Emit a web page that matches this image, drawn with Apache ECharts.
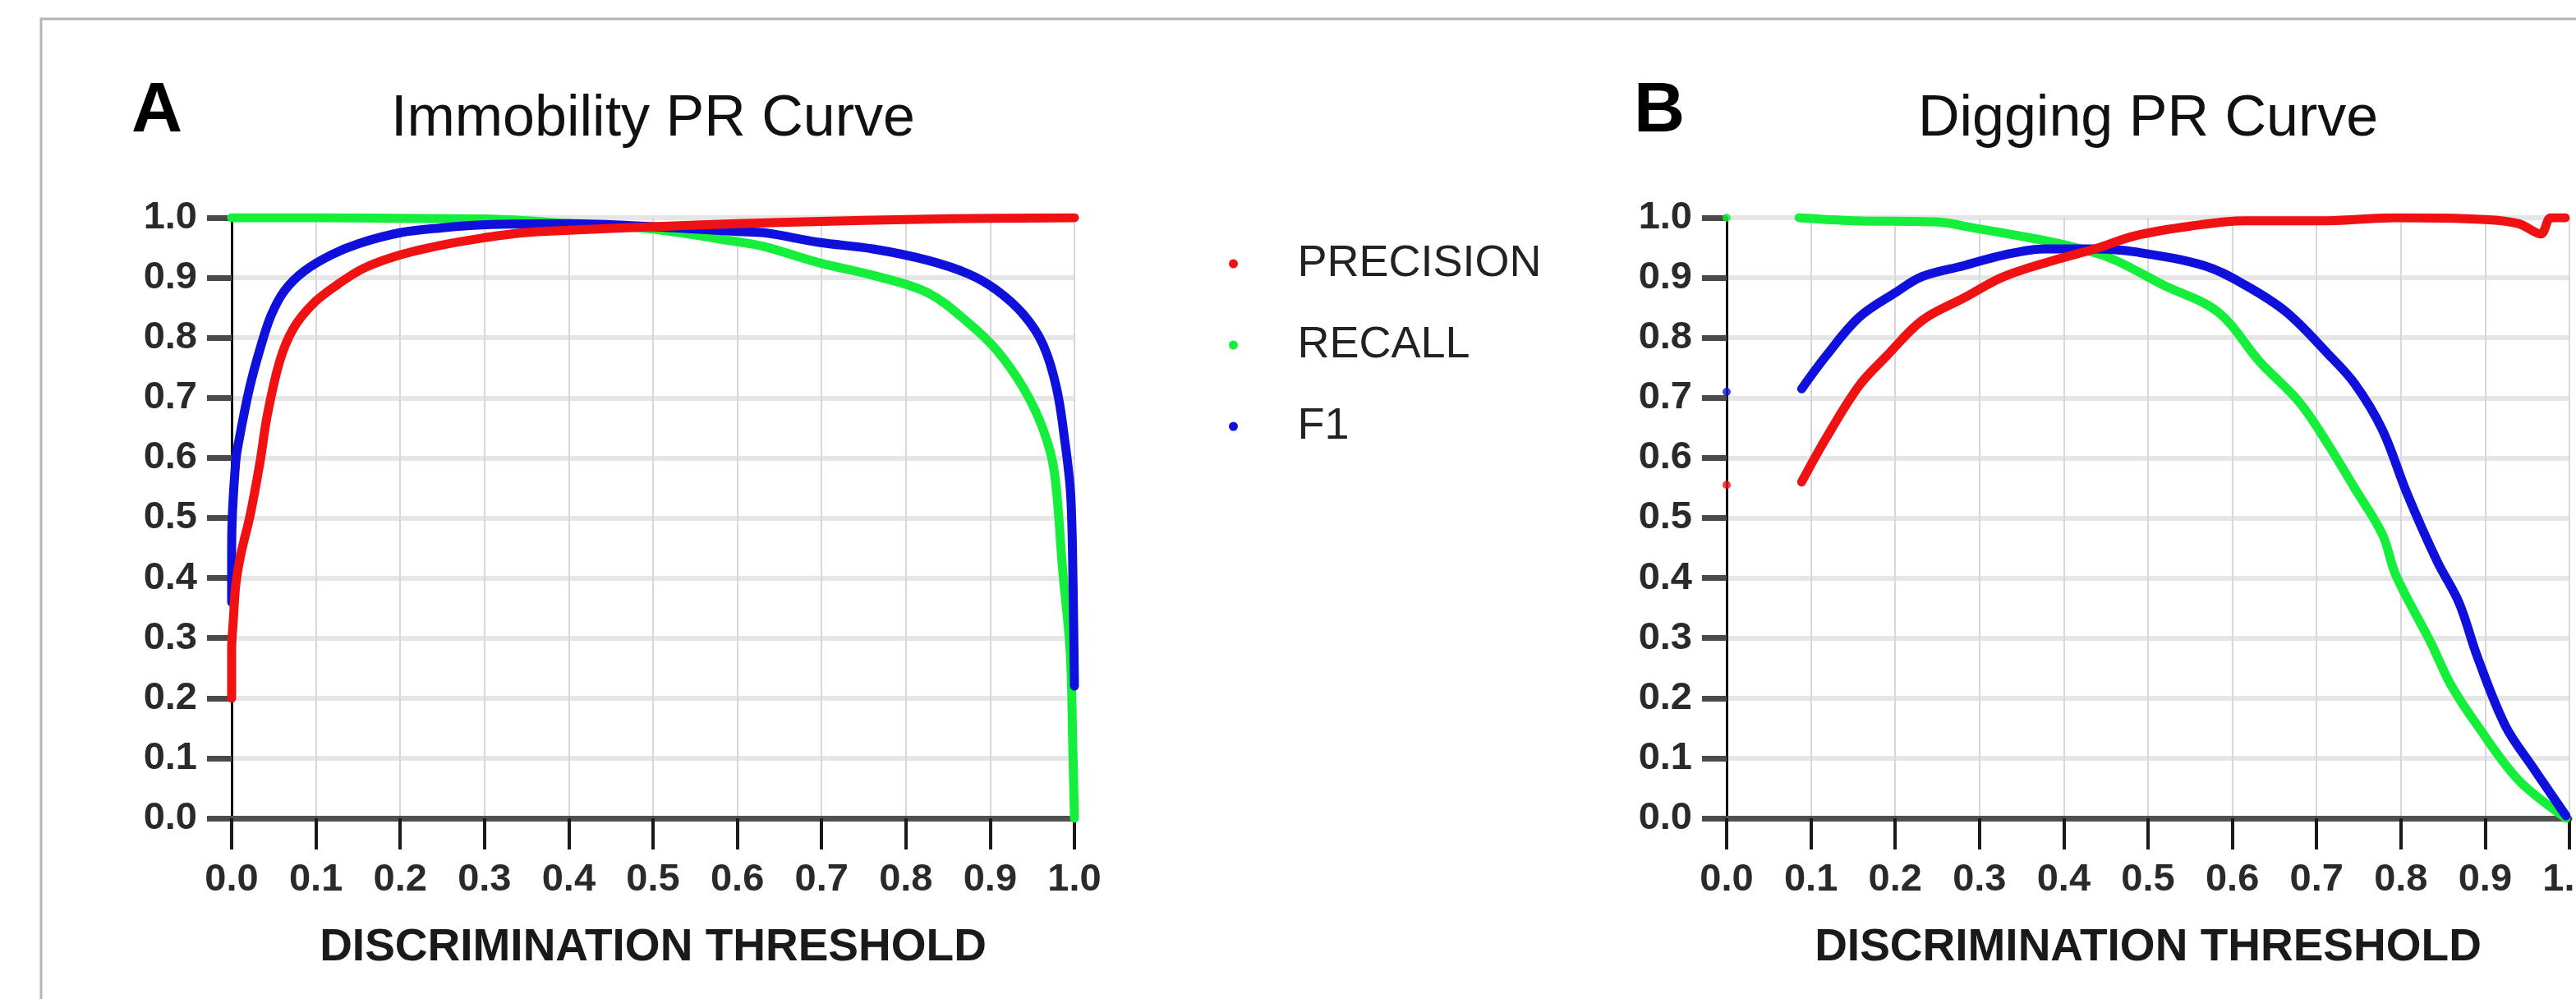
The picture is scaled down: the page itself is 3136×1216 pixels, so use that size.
<!DOCTYPE html>
<html><head><meta charset="utf-8">
<script src="https://cdn.jsdelivr.net/npm/echarts@6/dist/echarts.min.js"></script>
<style>html,body{margin:0;padding:0;background:#fff}#c{width:3136px;height:1216px}</style>
</head><body><div id="c"></div>
<script>
const seriesNames = ['PRECISION', 'RECALL', 'F1'];
const panelTitles = ['Immobility PR Curve', 'Digging PR Curve'];
const panelLetters = ['A', 'B'];
const xAxisTitle = 'DISCRIMINATION THRESHOLD';

// Panel A: Immobility  [threshold, value]
const immobilityPrecision = [[0,0.20],[0,0.28],[0.002,0.33],[0.005,0.39],[0.011,0.44],[0.022,0.505],[0.034,0.596],[0.042,0.669],[0.057,0.761],[0.073,0.815],[0.096,0.856],[0.125,0.888],[0.157,0.916],[0.2,0.938],[0.248,0.954],[0.297,0.966],[0.346,0.975],[0.4,0.979],[0.5,0.985],[0.6,0.99],[0.7,0.994],[0.8,0.997],[0.9,0.999],[1.0,1.0]];
const immobilityRecall = [[0,1.0],[0.1,1.0],[0.2,0.999],[0.3,0.998],[0.35,0.995],[0.4,0.99],[0.45,0.986],[0.5,0.981],[0.6,0.96],[0.632,0.952],[0.697,0.925],[0.761,0.904],[0.826,0.875],[0.875,0.824],[0.908,0.779],[0.94,0.715],[0.963,0.647],[0.976,0.578],[0.986,0.414],[0.995,0.277],[0.998,0.122],[1.0,0.0]];
const immobilityF1 = [[0,0.36],[0,0.45],[0.001,0.51],[0.005,0.596],[0.008,0.624],[0.021,0.715],[0.034,0.783],[0.047,0.838],[0.063,0.879],[0.086,0.911],[0.118,0.938],[0.151,0.957],[0.2,0.975],[0.248,0.983],[0.297,0.988],[0.4,0.99],[0.5,0.985],[0.6,0.977],[0.632,0.975],[0.697,0.959],[0.761,0.948],[0.826,0.929],[0.875,0.906],[0.908,0.879],[0.94,0.838],[0.963,0.788],[0.979,0.715],[0.989,0.624],[0.995,0.55],[0.997,0.487],[0.998,0.42],[0.999,0.33],[1.0,0.22]];

// Panel B: Digging  [threshold, value]
const diggingPrecision = [[0.089,0.56],[0.118,0.633],[0.157,0.72],[0.19,0.77],[0.232,0.829],[0.281,0.866],[0.329,0.902],[0.388,0.929],[0.437,0.948],[0.485,0.97],[0.55,0.986],[0.615,0.995],[0.713,0.995],[0.794,1.0],[0.9,0.997],[0.94,0.99],[0.966,0.973],[0.978,1.0],[0.995,1.0]];
const diggingRecall = [[0.086,1.0],[0.151,0.995],[0.248,0.993],[0.297,0.982],[0.346,0.97],[0.394,0.957],[0.453,0.934],[0.518,0.888],[0.583,0.843],[0.632,0.761],[0.68,0.692],[0.713,0.624],[0.745,0.55],[0.778,0.473],[0.794,0.405],[0.836,0.291],[0.859,0.223],[0.891,0.154],[0.94,0.063],[0.996,0.0]];
const diggingF1 = [[0.089,0.715],[0.118,0.77],[0.157,0.834],[0.2,0.875],[0.232,0.902],[0.281,0.92],[0.329,0.938],[0.378,0.948],[0.437,0.948],[0.485,0.943],[0.567,0.92],[0.615,0.888],[0.664,0.843],[0.713,0.774],[0.745,0.724],[0.778,0.647],[0.807,0.542],[0.843,0.428],[0.869,0.359],[0.891,0.268],[0.924,0.154],[0.956,0.086],[0.996,0.004]];
// isolated points at threshold 0 in panel B
const diggingZeroPrecision = [[0,0.555]];
const diggingZeroRecall = [[0,1.0]];
const diggingZeroF1 = [[0,0.71]];

const colors = {PRECISION:'#f01212', RECALL:'#16ee3c', F1:'#1010dc'};
const sans = '"Liberation Sans", Arial, sans-serif';

function mkX(i){
  return {
    type:'value', gridIndex:i, min:0, max:1, interval:0.1,
    name: xAxisTitle, nameLocation:'middle', nameGap:130,
    nameTextStyle:{fontFamily:sans, fontWeight:'bold', fontSize:55, color:'#1a1a1a'},
    axisLine:{show:true, onZero:false, lineStyle:{color:'#505050', width:7}},
    axisTick:{show:true, length:38, lineStyle:{color:'#1a1a1a', width:4}},
    axisLabel:{show:true, margin:52, formatter:v=>v.toFixed(1), fontFamily:sans, fontWeight:'bold', fontSize:47, color:'#2a2a2a', showMaxLabel:true, showMinLabel:true},
    splitLine:{show:true, lineStyle:{color:'#d8d8d8', width:2}}
  };
}
function mkY(i){
  return {
    type:'value', gridIndex:i, min:0, max:1, interval:0.1,
    axisLine:{show:true, onZero:false, lineStyle:{color:'#111', width:3}},
    axisTick:{show:true, length:30, lineStyle:{color:'#4a4a4a', width:7}},
    axisLabel:{show:true, margin:42, formatter:v=>v.toFixed(1), fontFamily:sans, fontWeight:'bold', fontSize:47, color:'#2a2a2a'},
    splitLine:{show:true, lineStyle:{color:'#e6e6e6', width:6}}
  };
}
function line(name, data, gi){
  return {type:'line', name, data, xAxisIndex:gi, yAxisIndex:gi, showSymbol:false, smooth:0.35,
    itemStyle:{color:colors[name]}, lineStyle:{color:colors[name], width:11, cap:'round', join:'round'}, z:3, silent:true};
}
function dots(name, data, gi){
  return {type:'scatter', name, data, xAxisIndex:gi, yAxisIndex:gi, symbolSize:10,
    itemStyle:{color:colors[name]}, z:3, silent:true};
}

const chart = echarts.init(document.getElementById('c'), null, {renderer:'canvas'});
chart.setOption({
  backgroundColor:'#ffffff',
  animation:false,
  grid:[
    {left:282, top:265, width:1026, height:731, outerBoundsMode:'none', containLabel:false},
    {left:2102, top:265, width:1026, height:731, outerBoundsMode:'none', containLabel:false}
  ],
  xAxis:[mkX(0), mkX(1)],
  yAxis:[mkY(0), mkY(1)],
  legend:{
    data: seriesNames,
    orient:'vertical', left:1491, top:286,
    icon:'circle', itemWidth:146, itemHeight:11, itemGap:39,
    textStyle:{fontFamily:sans, fontSize:54, color:'#222', lineHeight:60},
    selectedMode:false
  },
  graphic:[
    {type:'rect', shape:{x:50, y:23, width:3400, height:1500}, style:{fill:'none', stroke:'#b4b4b4', lineWidth:3}, silent:true},
    {type:'text', style:{text:panelLetters[0], x:191, y:136, fill:'#000', font:'bold 86px '+sans, align:'center', verticalAlign:'middle', textAlign:'center', textVerticalAlign:'middle'}},
    {type:'text', style:{text:panelLetters[1], x:2020, y:136, fill:'#000', font:'bold 86px '+sans, align:'center', verticalAlign:'middle', textAlign:'center', textVerticalAlign:'middle'}},
    {type:'text', style:{text:panelTitles[0], x:795, y:146, fill:'#111', font:'70px '+sans, align:'center', verticalAlign:'middle', textAlign:'center', textVerticalAlign:'middle'}},
    {type:'text', style:{text:panelTitles[1], x:2615, y:146, fill:'#111', font:'70px '+sans, align:'center', verticalAlign:'middle', textAlign:'center', textVerticalAlign:'middle'}}
  ],
  series:[
    line('RECALL', immobilityRecall, 0),
    line('F1', immobilityF1, 0),
    line('PRECISION', immobilityPrecision, 0),
    line('RECALL', diggingRecall, 1),
    line('F1', diggingF1, 1),
    line('PRECISION', diggingPrecision, 1),
    dots('PRECISION', diggingZeroPrecision, 1),
    dots('RECALL', diggingZeroRecall, 1),
    dots('F1', diggingZeroF1, 1)
  ]
});
</script></body></html>
